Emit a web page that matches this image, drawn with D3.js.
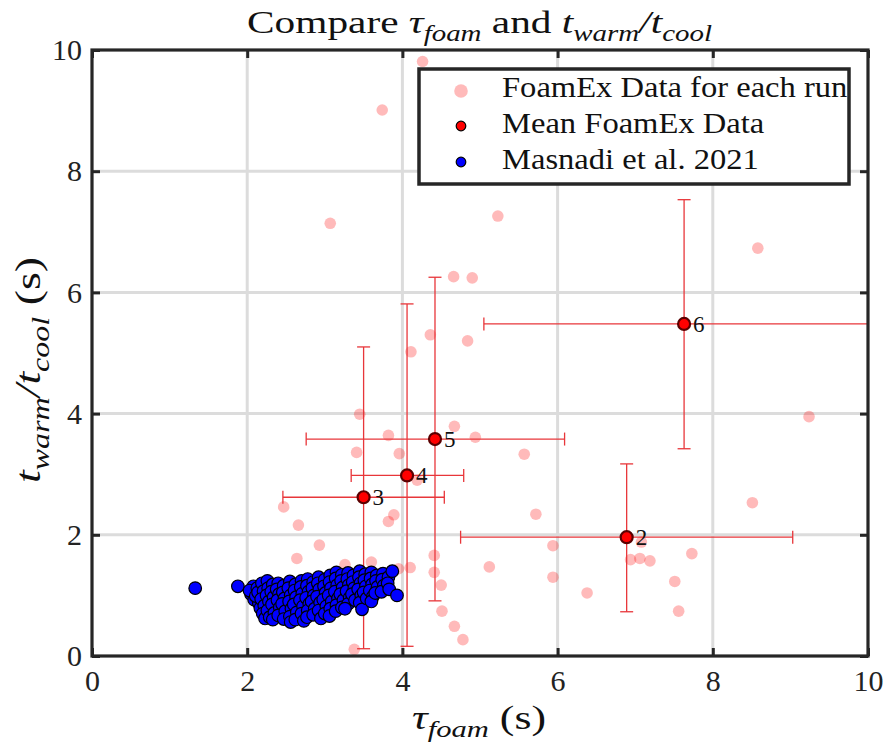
<!DOCTYPE html>
<html><head><meta charset="utf-8">
<script src="https://cdn.jsdelivr.net/npm/d3@7"></script>
<style>body{margin:0;background:#fff} svg{display:block}</style>
</head><body>
<svg id="chart" width="888" height="743"></svg>
<script>
const xTicks=[0,2,4,6,8,10];
const yTicks=[0,2,4,6,8,10];
const gridTicks=[2,4,6,8];
const runTau=[4.26,3.74,3.07,5.23,8.58,4.66,4.90,4.36,4.11,4.84,9.24,3.45,4.67,3.82,4.94,3.41,3.96,5.57,4.19,8.51,2.47,3.89,5.72,3.82,2.66,2.93,5.94,7.08,4.41,7.73,2.64,6.94,7.06,7.19,3.26,3.60,3.95,4.10,5.12,4.41,5.94,7.51,4.50,6.38,4.51,7.56,4.67,4.78,3.38,3.73];
const runRatio=[9.81,9.01,7.14,7.26,6.73,6.26,6.24,5.30,5.02,5.20,3.95,3.99,3.79,3.64,3.61,3.36,3.34,3.33,2.90,2.53,2.46,2.33,2.34,2.22,2.16,1.83,1.82,1.88,1.66,1.69,1.61,1.59,1.61,1.57,1.51,1.55,1.44,1.46,1.47,1.38,1.30,1.23,1.17,1.04,0.74,0.74,0.49,0.27,0.11,1.37];
const meanLabels=["2","3","4","5","6"];
const meanTau=[6.89,3.50,4.06,4.42,7.63];
const meanRatio=[1.96,2.62,2.98,3.58,5.48];
const meanTauLow=[4.75,2.46,3.34,2.76,5.05];
const meanTauHigh=[9.03,4.54,4.79,6.09,10.8];
const meanRatioLow=[0.73,0.12,0.16,0.91,3.42];
const meanRatioHigh=[3.17,5.10,5.81,6.25,7.53];
const masnadiPoints=[
[1.33,1.12],[1.88,1.15],[2.08,1.15],
[2.05,1.02],[2.09,0.93],[2.03,1.08],
[2.13,1.12],[2.15,0.87],[2.11,0.99],[2.17,0.79],[2.14,1.05],
[2.19,1.20],[2.21,1.07],[2.18,0.94],[2.22,0.83],[2.20,0.70],[2.23,0.62],
[2.26,1.24],[2.27,1.12],[2.25,1.00],[2.28,0.90],[2.26,0.75],[2.29,0.64],
[2.33,1.18],[2.31,1.06],[2.34,0.97],[2.32,0.85],[2.35,0.71],[2.33,0.60],
[2.40,1.20],[2.38,1.10],[2.41,1.02],[2.39,0.92],[2.42,0.80],[2.40,0.67],
[2.47,1.16],[2.46,1.05],[2.48,0.95],[2.45,0.86],[2.49,0.74],[2.47,0.61],
[2.55,1.23],[2.53,1.12],[2.56,1.00],[2.54,0.90],[2.57,0.78],[2.55,0.65],[2.56,0.56],
[2.62,1.18],[2.61,1.08],[2.63,0.97],[2.60,0.85],[2.64,0.72],[2.62,0.60],
[2.70,1.24],[2.69,1.14],[2.71,1.03],[2.68,0.92],[2.72,0.82],[2.70,0.70],[2.73,0.58],
[2.78,1.27],[2.77,1.16],[2.79,1.06],[2.76,0.96],[2.80,0.86],[2.78,0.75],[2.77,0.64],
[2.85,1.22],[2.84,1.12],[2.86,1.00],[2.83,0.90],[2.87,0.78],[2.85,0.68],
[2.92,1.30],[2.91,1.20],[2.93,1.10],[2.90,0.98],[2.94,0.88],[2.92,0.75],[2.95,0.62],
[3.00,1.26],[2.99,1.15],[3.01,1.04],[2.98,0.93],[3.02,0.82],[3.00,0.70],
[3.07,1.33],[3.06,1.22],[3.08,1.12],[3.05,1.00],[3.09,0.90],[3.07,0.78],[3.06,0.66],
[3.15,1.38],[3.14,1.28],[3.16,1.17],[3.13,1.06],[3.17,0.95],[3.15,0.84],[3.14,0.74],
[3.22,1.34],[3.21,1.24],[3.23,1.13],[3.20,1.02],[3.24,0.92],[3.22,0.80],
[3.30,1.37],[3.29,1.27],[3.31,1.17],[3.28,1.07],[3.32,0.96],[3.30,0.86],[3.26,0.78],
[3.37,1.33],[3.36,1.22],[3.38,1.12],[3.35,1.02],[3.39,0.92],
[3.45,1.40],[3.44,1.30],[3.46,1.20],[3.43,1.10],[3.47,1.00],[3.45,0.88],[3.48,0.77],
[3.52,1.35],[3.51,1.25],[3.53,1.15],[3.50,1.05],[3.54,0.95],
[3.60,1.38],[3.59,1.28],[3.61,1.18],[3.58,1.08],[3.62,0.98],[3.60,0.90],
[3.67,1.33],[3.66,1.24],[3.68,1.14],[3.65,1.04],
[3.75,1.36],[3.74,1.26],[3.76,1.16],[3.73,1.06],
[3.82,1.30],[3.81,1.20],[3.83,1.10],
[3.87,1.40],[3.93,1.00]
];
const legendLabels=["FoamEx Data for each run","Mean FoamEx Data","Masnadi et al. 2021"];

const FONT="'Liberation Serif','Times New Roman',serif";
const AX="#262626";
const svg=d3.select("#chart");
const L=92,R=868,T=50,B=656;
const x=d3.scaleLinear().domain([0,10]).range([L,R]);
const y=d3.scaleLinear().domain([0,10]).range([B,T]);

// grid
const grid=svg.append("g");
grid.selectAll("line.gx").data(gridTicks).join("line").attr("class","gx")
  .attr("x1",d=>x(d)).attr("x2",d=>x(d)).attr("y1",T).attr("y2",B)
  .attr("stroke","#dcdcdc").attr("stroke-width",3);
grid.selectAll("line.gy").data(gridTicks).join("line").attr("class","gy")
  .attr("y1",d=>y(d)).attr("y2",d=>y(d)).attr("x1",L).attr("x2",R)
  .attr("stroke","#dcdcdc").attr("stroke-width",3);

// clip
svg.append("clipPath").attr("id","clip").append("rect")
  .attr("x",L).attr("y",T).attr("width",R-L).attr("height",B-T);
const plot=svg.append("g").attr("clip-path","url(#clip)");

// pink runs
plot.append("g").selectAll("circle").data(runTau).join("circle")
  .attr("cx",d=>x(d)).attr("cy",(d,i)=>y(runRatio[i])).attr("r",5.8)
  .attr("fill","#ff0000").attr("fill-opacity",0.27);

// error bars
const ERR="#e8363a";
const eb=plot.append("g").attr("stroke",ERR).attr("stroke-width",1.3).attr("fill","none");
meanTau.forEach((t,i)=>{
  const cy=y(meanRatio[i]), cx=x(t);
  eb.append("line").attr("x1",x(meanTauLow[i])).attr("x2",x(meanTauHigh[i])).attr("y1",cy).attr("y2",cy);
  [meanTauLow[i],meanTauHigh[i]].forEach(v=>eb.append("line").attr("x1",x(v)).attr("x2",x(v)).attr("y1",cy-6.5).attr("y2",cy+6.5));
  eb.append("line").attr("x1",cx).attr("x2",cx).attr("y1",y(meanRatioLow[i])).attr("y2",y(meanRatioHigh[i]));
  [meanRatioLow[i],meanRatioHigh[i]].forEach(v=>eb.append("line").attr("x1",cx-6.5).attr("x2",cx+6.5).attr("y1",y(v)).attr("y2",y(v)));
});
plot.append("g").selectAll("circle").data(meanTau).join("circle")
  .attr("cx",d=>x(d)).attr("cy",(d,i)=>y(meanRatio[i])).attr("r",6)
  .attr("fill","#ff0000").attr("stroke","#5a0000").attr("stroke-width",2.2);

// masnadi
plot.append("g").selectAll("circle").data(masnadiPoints).join("circle")
  .attr("cx",d=>x(d[0])).attr("cy",d=>y(d[1])).attr("r",6.3)
  .attr("fill","#0000ff").attr("stroke","#000").attr("stroke-width",1.2);

// mean labels
svg.append("g").selectAll("text").data(meanLabels).join("text")
  .attr("x",(d,i)=>x(meanTau[i])+9).attr("y",(d,i)=>y(meanRatio[i])+8)
  .attr("font-family",FONT).attr("font-size",23).attr("fill","#111").text(d=>d);

// axes
const xAxis=d3.axisBottom(x).tickValues(xTicks).tickSizeInner(-8).tickSizeOuter(0).tickPadding(14).tickFormat(d3.format("d"));
const yAxis=d3.axisLeft(y).tickValues(yTicks).tickSizeInner(-8).tickSizeOuter(0).tickPadding(10).tickFormat(d3.format("d"));
const gx=svg.append("g").attr("transform",`translate(0,${B})`).call(xAxis);
const gy=svg.append("g").attr("transform",`translate(${L},0)`).call(yAxis);
const gxt=svg.append("g").attr("transform",`translate(0,${T})`).call(d3.axisTop(x).tickValues(xTicks).tickSizeInner(-8).tickSizeOuter(0).tickFormat(""));
const gyr=svg.append("g").attr("transform",`translate(${R},0)`).call(d3.axisRight(y).tickValues(yTicks).tickSizeInner(-8).tickSizeOuter(0).tickFormat(""));
[gx,gy,gxt,gyr].forEach(g=>{
  g.select(".domain").remove();
  g.selectAll(".tick line").attr("stroke",AX).attr("stroke-width",3);
  g.selectAll(".tick text").attr("font-family",FONT).attr("font-size",30).attr("fill","#222");
});
svg.append("rect").attr("x",L).attr("y",T).attr("width",R-L).attr("height",B-T)
  .attr("fill","none").attr("stroke",AX).attr("stroke-width",3.2);

// math text helper
function mathText(g,parts,size){
  const t=g.append("text").attr("font-family",FONT).attr("font-size",size).attr("fill","#111");
  let shift=0;
  parts.forEach(p=>{
    const sp=t.append("tspan").text(p[0]);
    if(p[1]) sp.attr("font-style","italic");
    const want=p[2]?Math.round(size*0.24):0;
    if(want!==shift){sp.attr("dy",want-shift);shift=want;}
    if(p[2]) sp.attr("font-size",size*0.7);
  });
  return t;
}
function place(t,k,cx,cy,rot){
  t.attr("transform",`translate(${cx},${cy})${rot?" rotate(-90)":""} scale(${k},1)`);
}
function stretch(t,target,cx,cy,rot){
  const w=t.node().getBBox().width;
  const k=target/w;
  place(t,k,cx,cy,rot);
  return k;
}

// title
const title=mathText(svg.append("g"),[["Compare ",0,0],["τ",1,0],["foam",1,1],[" and ",0,0],["t",1,0],["warm",1,1],["/t",1,0],["cool",1,1]],32)
  .attr("text-anchor","middle");
stretch(title,465,479.5,33);

// x label
const xl=mathText(svg.append("g"),[["τ",1,0],["foam",1,1],[" (s)",0,0]],34).attr("text-anchor","middle");
stretch(xl,134,479,729);
// y label
const yl=mathText(svg.append("g"),[["t",1,0],["warm",1,1],["/t",1,0],["cool",1,1],[" (s)",0,0]],36).attr("text-anchor","middle");
stretch(yl,226,40,370,true);

// legend
const lg=svg.append("g");
lg.append("rect").attr("x",419).attr("y",69).attr("width",430).attr("height",115)
  .attr("fill","#fff").attr("stroke",AX).attr("stroke-width",3.5);
const rowY=[91,126,162];
lg.append("circle").attr("cx",461).attr("cy",rowY[0]).attr("r",6.8).attr("fill","#ff0000").attr("fill-opacity",0.27);
lg.append("circle").attr("cx",461).attr("cy",rowY[1]).attr("r",4.8).attr("fill","#ff0000").attr("stroke","#000").attr("stroke-width",1.2);
lg.append("circle").attr("cx",461).attr("cy",rowY[2]).attr("r",4.8).attr("fill","#0000ff").attr("stroke","#000").attr("stroke-width",1.2);
const lt=lg.selectAll("text").data(legendLabels).join("text")
  .attr("font-family",FONT).attr("font-size",29).attr("fill","#111").text(d=>d);
const w0=lt.nodes()[0].getBBox().width;
const k=346/w0;
lt.attr("transform",(d,i)=>`translate(502,${rowY[i]+6+(i===0?0:1)}) scale(${k},1)`);
</script>
</body></html>
